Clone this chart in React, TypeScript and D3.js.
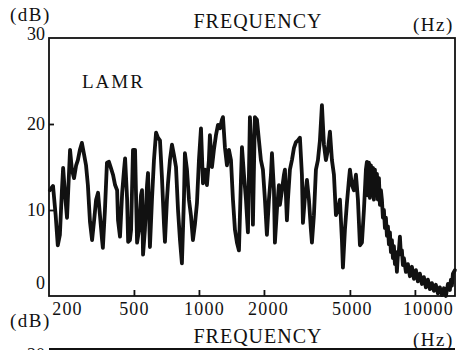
import React, { useEffect, useRef } from "react";
import * as d3 from "d3";

// frequency (Hz), left to right
const freqHz = [
  204, 211, 217, 222, 227, 232, 235, 240, 245, 250, 253, 258, 264, 270, 275, 281, 287, 294, 300, 306,
  313, 320, 327, 334, 341, 348, 356, 359, 367, 375, 383, 391, 400, 409, 418, 422, 431, 441, 450, 455,
  465, 470, 479, 485, 495, 506, 517, 528, 539, 545, 551, 562, 575, 581, 593, 606, 619, 633, 646, 660,
  674, 689, 696, 711, 719, 734, 750, 766, 783, 800, 817, 834, 852, 861, 880, 899, 918, 938, 958, 979,
  1000, 1022, 1044, 1066, 1089, 1112, 1124, 1149, 1173, 1199, 1225, 1251, 1278, 1292, 1319, 1348, 1377, 1407, 1437, 1468,
  1500, 1532, 1565, 1582, 1616, 1651, 1686, 1722, 1760, 1778, 1816, 1856, 1896, 1936, 1978, 2021, 2064, 2109, 2155, 2178,
  2225, 2248, 2297, 2346, 2371, 2423, 2475, 2501, 2555, 2583, 2638, 2695, 2753, 2813, 2873, 2935, 2998, 3031, 3096, 3163,
  3231, 3300, 3336, 3407, 3481, 3556, 3633, 3711, 3791, 3872, 3956, 4042, 4129, 4218, 4309, 4401, 4496, 4593, 4642, 4742,
  4844, 4949, 5002, 5110, 5220, 5333, 5448, 5565, 5685, 5807, 5932, 5996, 6060, 6125, 6190, 6257, 6324, 6391, 6460, 6530,
  6600, 6671, 6742, 6815, 6887, 6961, 7035, 7111, 7187, 7264, 7342, 7420, 7500, 7580, 7662, 7743, 7826, 7910, 7995, 8081,
  8167, 8254, 8343, 8432, 8523, 8614, 8706, 8800, 8894, 9086, 9282, 9482, 9686, 9894, 10108, 10325, 10547, 10774, 11006, 11243,
  11485, 11734, 11984, 12244, 12507, 12776, 13054, 13334, 13623, 13916, 14218, 14523, 14682, 14838, 14998, 15318,
];

// level (dB) at each frequency above
const levelDb = [
  12.3, 12.8, 9.4, 5.9, 7.1, 12.3, 14.9, 11.7, 9.1, 14.1, 17.0, 14.7, 13.7, 15.2, 15.8, 17.0, 17.8, 16.4, 15.2, 12.9,
  8.6, 6.5, 8.8, 11.2, 12.0, 9.4, 6.5, 5.6, 10.0, 15.5, 15.6, 14.9, 14.1, 12.9, 12.3, 8.8, 6.9, 12.0, 14.7, 16.0,
  11.2, 6.3, 6.5, 7.7, 17.0, 17.0, 6.2, 7.7, 11.7, 12.3, 4.8, 7.7, 12.9, 14.3, 5.7, 11.2, 15.8, 19.0, 18.4, 18.1,
  13.8, 8.3, 6.3, 11.2, 13.1, 15.8, 17.6, 16.4, 15.0, 10.0, 6.5, 3.8, 11.2, 16.6, 14.7, 11.2, 9.4, 6.5, 8.3, 10.8,
  15.8, 19.5, 13.1, 14.7, 12.9, 15.8, 18.7, 15.0, 17.0, 18.7, 19.9, 19.5, 20.5, 20.8, 17.3, 15.2, 17.0, 15.8, 11.2, 7.7,
  6.2, 5.3, 13.5, 17.3, 14.1, 11.2, 7.4, 20.8, 15.8, 8.3, 20.8, 20.5, 18.1, 15.8, 14.7, 11.2, 7.1, 11.2, 14.1, 16.6,
  12.3, 6.2, 10.0, 12.9, 10.6, 12.3, 14.1, 14.7, 8.8, 11.2, 14.7, 15.8, 17.2, 17.9, 18.1, 18.4, 14.1, 8.5, 11.5, 13.5,
  11.2, 7.7, 6.2, 9.4, 14.7, 15.8, 18.1, 22.2, 17.6, 15.8, 17.0, 19.1, 15.8, 14.1, 9.4, 10.0, 11.2, 6.5, 3.3, 7.7,
  10.8, 13.5, 14.7, 12.9, 12.3, 14.1, 11.2, 5.9, 6.2, 10.0, 14.7, 15.6, 11.7, 15.5, 11.4, 15.2, 11.7, 14.9, 11.2, 14.7,
  11.7, 14.2, 11.2, 13.7, 10.6, 12.3, 11.2, 9.1, 10.0, 7.9, 9.1, 7.0, 8.1, 6.0, 7.4, 5.1, 6.5, 4.4, 5.8, 3.7,
  5.1, 2.8, 4.8, 5.3, 6.9, 4.8, 5.3, 3.6, 4.4, 2.8, 3.7, 2.3, 3.4, 2.0, 3.0, 1.7, 2.6, 1.4, 2.2, 1.0,
  1.9, 0.8, 1.5, 0.6, 1.3, 0.3, 1.0, 0.1, 0.9, 0.0, 1.4, 0.7, 1.9, 1.2, 2.6, 3.0,
];

const xTicks = [200, 500, 1000, 2000, 5000, 10000];
const yTicks = [0, 10, 20, 30];
const curveName = "LAMR";
const axisTitle = "FREQUENCY";
const yUnit = "(dB)";
const xUnit = "(Hz)";

export default function App() {
  const ref = useRef<SVGSVGElement>(null);

  useEffect(() => {
    const width = 461;
    const height = 350;
    const left = 49, right = 455, top = 38, bottom = 296;
    const font = "'Liberation Serif', 'DejaVu Serif', serif";
    const ink = "#111";

    const svg = d3.select(ref.current).attr("width", width).attr("height", height);
    svg.selectAll("*").remove();
    svg.append("rect").attr("width", width).attr("height", height).attr("fill", "#fff");

    const x = d3.scaleLog().domain([200, 15500]).range([48, 456]);
    const y = d3.scaleLinear().domain([0, 30]).range([bottom, top]);

    // frame
    svg.append("rect")
      .attr("x", left).attr("y", top)
      .attr("width", right - left).attr("height", bottom - top)
      .attr("fill", "none").attr("stroke", ink).attr("stroke-width", 1.8);

    // x axis, ticks point inward
    const labelShift: Record<number, number> = { 200: 19, 500: 0, 1000: 5, 2000: 4, 5000: 2, 10000: 13 };
    const gx = svg.append("g")
      .attr("transform", `translate(0,${bottom})`)
      .call(d3.axisBottom(x).tickValues(xTicks).tickFormat(d3.format("d")).tickSizeInner(-6).tickSizeOuter(0).tickPadding(6));
    gx.select(".domain").remove();
    gx.selectAll<SVGLineElement, number>(".tick line")
      .attr("stroke", ink).attr("stroke-width", 1.8)
      .filter(d => d === 200).remove();
    gx.selectAll<SVGTextElement, number>(".tick text")
      .attr("dx", d => labelShift[d] || 0)
      .attr("fill", ink)
      .style("font-family", font).style("font-size", "18px").style("letter-spacing", "1.2px");

    // y axis
    const gy = svg.append("g")
      .attr("transform", `translate(${left},0)`)
      .call(d3.axisLeft(y).tickValues(yTicks).tickSizeInner(-5).tickSizeOuter(0).tickPadding(4));
    gy.select(".domain").remove();
    gy.selectAll<SVGLineElement, number>(".tick line")
      .attr("stroke", ink).attr("stroke-width", 1.8)
      .filter(d => d === 0 || d === 30).remove();
    gy.selectAll<SVGTextElement, number>(".tick text")
      .attr("dy", d => (d === 0 ? "-0.4em" : d === 30 ? "0.1em" : "0.3em"))
      .attr("fill", ink)
      .style("font-family", font).style("font-size", "18px");

    // response trace
    const pts = freqHz.map((f, i) => [f, levelDb[i]] as [number, number]);
    const line = d3.line<[number, number]>().x(d => x(d[0])).y(d => y(d[1]));
    svg.append("path")
      .attr("d", line(pts))
      .attr("fill", "none").attr("stroke", ink)
      .attr("stroke-width", 3.8).attr("stroke-linejoin", "round").attr("stroke-linecap", "round");

    const txt = (s: string, tx: number, ty: number, anchor = "start", size = 20, ls = 1.5) =>
      svg.append("text")
        .attr("x", tx).attr("y", ty)
        .attr("text-anchor", anchor)
        .attr("fill", ink)
        .style("font-family", font).style("font-size", `${size}px`).style("letter-spacing", `${ls}px`)
        .text(s);

    txt(yUnit, 10, 21, "start", 19);
    txt(axisTitle, 258, 28, "middle", 20, 1);
    txt(xUnit, 413, 31, "start", 19);
    txt(curveName, 82, 88, "start", 19, 2);

    // header of the next panel, cut by the page edge
    txt(yUnit, 10, 327, "start", 19);
    txt(axisTitle, 258, 343, "middle", 20, 1);
    txt(xUnit, 413, 346, "start", 19);
    txt("20", 45, 361, "end", 18, 0);
    svg.append("line")
      .attr("x1", left).attr("x2", right).attr("y1", 349).attr("y2", 349)
      .attr("stroke", ink).attr("stroke-width", 1.8);
  }, []);

  return (
    <div style={{ position: "absolute", left: 0, top: 0 }}>
      <svg ref={ref} />
    </div>
  );
}
